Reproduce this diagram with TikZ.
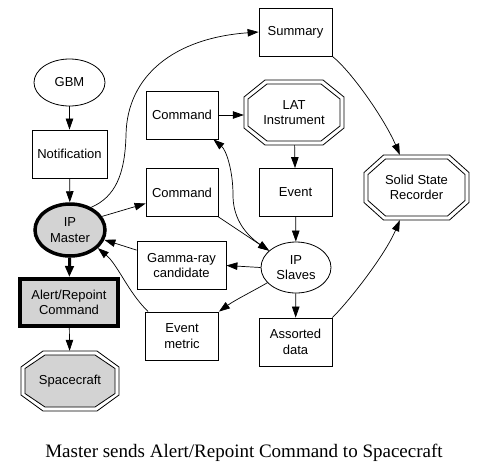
\documentclass[tikz,border=0pt]{standalone}
\usepackage{fontspec}
\setmainfont{Liberation Sans}
\newfontfamily\capfont{Liberation Serif}
\usetikzlibrary{arrows.meta,shapes.geometric,calc}
\definecolor{ngray}{RGB}{211,211,211}
\newcommand\octpath[4]{(-#1,-#4) -- (-#1,#4) -- (-#3,#2) -- (#3,#2) -- (#1,#4) -- (#1,-#4) -- (#3,-#2) -- (-#3,-#2) -- cycle}
\tikzset{
  lbl/.style={font=\fontsize{13}{15.5}\selectfont, align=center, inner sep=0pt},
  box/.style={lbl, draw, line width=0.8pt, minimum height=48pt},
  ell/.style={lbl, draw, ellipse, line width=0.8pt},
  octnode/.style={lbl},
  octline/.style={line width=0.8pt},
  edge/.style={-{Triangle[length=11pt,width=7.5pt]}, line width=0.7pt},
  biedge/.style={{Triangle[length=11pt,width=7.5pt]}-{Triangle[length=11pt,width=7.5pt]}, line width=0.7pt},
  thickedge/.style={-{Triangle[length=11pt,width=8.5pt]}, line width=3pt},
}
\begin{document}
\begin{tikzpicture}[x=1pt,y=-1pt]
\useasboundingbox (0,0) rectangle (487,467);
% nodes
\node[ell, minimum width=71pt, minimum height=47pt] (gbm) at (69.5,82.5) {GBM};
\node[box, minimum width=75pt] (notif) at (69.5,154) {Notification};
\node[lbl, draw, ellipse, line width=3.5pt, fill=ngray, minimum width=70pt, minimum height=52pt] (master) at (70,230) {IP\\Master};
\node[lbl, draw, line width=4pt, fill=ngray, minimum width=98pt, minimum height=47pt] (alert) at (69,302.5) {Alert/Repoint\\Command};
\node[octnode, minimum width=98pt, minimum height=60pt] (space) at (70,381) {};
\node[box, minimum width=72pt] (cmda) at (182,115) {Command};
\node[box, minimum width=72pt] (cmdb) at (182,192.5) {Command};
\node[box, minimum width=73pt] (summary) at (295.5,32) {Summary};
\node[octnode, minimum width=100pt, minimum height=65pt] (lat) at (294,112.5) {};
\node[box, minimum width=73pt] (event) at (295.5,192.5) {Event};
\node[octnode, minimum width=105pt, minimum height=65pt] (ssr) at (416.5,187.5) {};
\node[ell, minimum width=70pt, minimum height=51pt] (slaves) at (296,267.5) {IP\\Slaves};
\node[box, minimum width=73pt] (assorted) at (295.5,342) {Assorted\\data};
\node[box, minimum width=89pt] (gamma) at (181.5,265.5) {Gamma-ray\\candidate};
\node[box, minimum width=73pt] (emetric) at (182,336) {Event\\metric};
% octagon outlines
\draw[octline, shift={(space.center)}] \octpath{49}{30}{27}{14};
\draw[octline, fill=ngray, shift={(space.center)}] \octpath{45}{26}{25}{12.5};
\node[lbl] at (space.center) {Spacecraft};
\draw[octline, shift={(lat.center)}] \octpath{50}{32.5}{29}{15.5};
\draw[octline, shift={(lat.center)}] \octpath{46}{28.5}{27}{13.5};
\node[lbl] at (lat.center) {LAT\\Instrument};
\draw[octline, shift={(ssr.center)}] \octpath{52.5}{32.5}{33}{15};
\draw[octline, shift={(ssr.center)}] \octpath{48.5}{28.5}{31}{13};
\node[lbl] at (ssr.center) {Solid State\\Recorder};
% edges
\draw[edge] (gbm) -- (notif);
\draw[edge] (notif) -- (master);
\draw[thickedge] (master) -- (alert);
\draw[edge] (alert) -- (space);
\draw[edge] (master.23) -- ($(cmdb.west)+(0,11)$);
\draw[edge] (master.47) .. controls (115,197) and (125,175) .. (126,135) .. controls (127,75) and (175,38) .. (summary.west);
\draw[edge] (cmda.east) -- (cmda.east -| lat.west);
\draw[edge] (lat) -- (event);
\draw[edge] (event) -- (slaves);
\draw[edge] (slaves) -- (assorted);
\draw[edge] (slaves.west) -- (gamma.east);
\draw[edge] ($(gamma.north west)+(0,9)$) -- (master.-16);
\draw[edge] (slaves.208) .. controls (255,290) and (235,300) .. (emetric.north east);
\draw[edge] ($(emetric.north west)+(3,0)$) .. controls (128,292) and (118,265) .. (master.-33);
\draw[edge] (cmdb.south east) -- (slaves.148);
\draw[biedge] (slaves.148) .. controls (242,232) and (233,215) .. (233,195) .. controls (233,170) and (226,150) .. ($(cmda.south east)+(-5,0)$);
\draw[edge] (summary.south east) .. controls (352,72) and (385,120) .. (ssr.117);
\draw[edge] (assorted.north east) .. controls (350,300) and (385,255) .. (ssr.243);
% caption
\node[font=\capfont\fontsize{19}{22}\selectfont, inner sep=0pt, anchor=base] (cap) at (244,457.5) {Master sends Alert/Repoint Command to Spacecraft};
\end{tikzpicture}
\end{document}
